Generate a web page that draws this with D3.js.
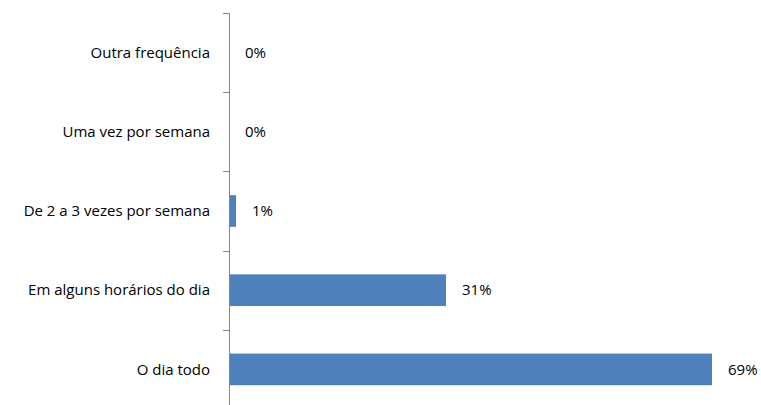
<!DOCTYPE html>
<html>
<head>
<meta charset="utf-8">
<script src="https://cdnjs.cloudflare.com/ajax/libs/d3/7.8.5/d3.min.js"></script>
<style>
  body { margin: 0; background: #fff; }
  text { font-family: "Open Sans", sans-serif; font-size: 15px; fill: #000; }
</style>
</head>
<body>
<svg width="761" height="405"></svg>
<script>
// categories, top to bottom
var categories = ["Outra frequência", "Uma vez por semana", "De 2 a 3 vezes por semana", "Em alguns horários do dia", "O dia todo"];
var values = [0, 0, 0.01, 0.31, 0.69];
var valueLabels = ["0%", "0%", "1%", "31%", "69%"];

var svg = d3.select("svg"),
    axisX = 229;

var x = d3.scaleLinear()
    .domain([0, 1])
    .range([axisX, axisX + 700]);

var y = d3.scaleBand()
    .domain(categories)
    .range([13, 409])
    .paddingInner(0.6)
    .paddingOuter(0.3);

var data = categories.map(function(c, i) {
    return { cat: c, value: values[i], label: valueLabels[i] };
});

svg.selectAll(".bar")
    .data(data)
    .enter().append("rect")
    .attr("class", "bar")
    .attr("x", x(0))
    .attr("y", function(d) { return y(d.cat); })
    .attr("width", function(d) { return x(d.value) - x(0); })
    .attr("height", y.bandwidth())
    .attr("fill", "#4f81bd");

svg.selectAll(".val")
    .data(data)
    .enter().append("text")
    .attr("class", "val")
    .attr("x", function(d) { return x(d.value) + 16; })
    .attr("y", function(d) { return y(d.cat) + y.bandwidth() / 2; })
    .attr("dy", "0.35em")
    .text(function(d) { return d.label; });

// category axis: line + ticks between bands
var step = y.step();
var g = svg.append("g").attr("stroke", "#868686").attr("stroke-width", 1);
g.append("line")
    .attr("x1", axisX + 0.5).attr("x2", axisX + 0.5)
    .attr("y1", 13).attr("y2", 409);
d3.range(categories.length + 1).forEach(function(i) {
    var ty = Math.round(13 + i * step) + 0.5;
    g.append("line")
        .attr("x1", axisX - 6).attr("x2", axisX)
        .attr("y1", ty).attr("y2", ty);
});

svg.selectAll(".cat")
    .data(categories)
    .enter().append("text")
    .attr("class", "cat")
    .attr("x", 210)
    .attr("y", function(d) { return y(d) + y.bandwidth() / 2; })
    .attr("dy", "0.35em")
    .attr("text-anchor", "end")
    .text(function(d) { return d; });
</script>
</body>
</html>
